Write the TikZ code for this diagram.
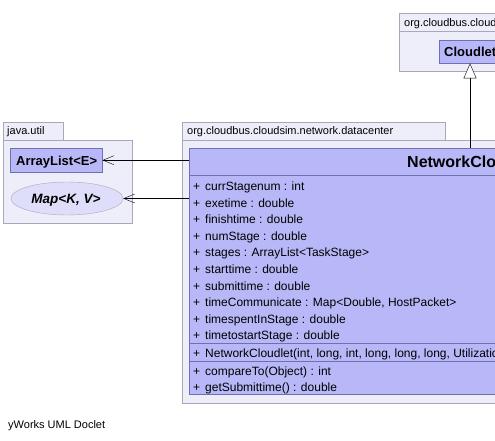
\documentclass[tikz,border=0pt]{standalone}
\usepackage{fontspec}
\setmainfont{Liberation Sans}
\usetikzlibrary{arrows.meta,shapes.geometric}
\definecolor{pkgfill}{RGB}{238,238,250}
\definecolor{pkgdraw}{RGB}{168,168,184}
\definecolor{clsfill}{RGB}{184,184,248}
\definecolor{clsdraw}{RGB}{112,112,176}
\definecolor{ifcfill}{RGB}{222,222,250}
\begin{document}
\begin{tikzpicture}[x=1pt, y=-1pt, font=\fontsize{11}{13}\selectfont,
  pkg body/.style={rectangle,draw=pkgdraw,fill=pkgfill,anchor=north west,inner sep=0pt},
  pkg tab/.style={rectangle,draw=pkgdraw,fill=pkgfill,anchor=south west,inner sep=0pt,minimum height=18pt},
  cls box/.style={rectangle,draw=clsdraw,fill=clsfill,anchor=north west,inner sep=0pt},
  label/.style={anchor=base west,inner sep=0pt},
  member/.style={anchor=base west,inner sep=0pt,font=\fontsize{12}{14}\selectfont},
  clsname/.style={anchor=base west,inner sep=0pt,font=\fontsize{13}{15}\selectfont\bfseries},
  dep/.style={-{Straight Barb[length=11pt,width=9pt]},thin},
  gen/.style={-{Triangle[open,length=15pt,width=13pt,fill=white]},thin}]
\useasboundingbox (0,0) rectangle (495,441);
\clip (0,0) rectangle (495,441);
\fill[white] (0,0) rectangle (495,441);

% packages
\node[pkg body, minimum width=129pt, minimum height=83pt] (utilpkg) at (3,140) {};
\node[pkg tab, minimum width=60pt] (utiltab) at (utilpkg.north west) {};
\node[label] at (7,135) {java.util};
\node[pkg body, minimum width=340pt, minimum height=263pt] (dcpkg) at (182,140) {};
\node[pkg tab, minimum width=263pt] (dctab) at (dcpkg.north west) {};
\node[label] at (187,135) {org.cloudbus.cloudsim.network.datacenter};
\node[pkg body, minimum width=140pt, minimum height=40pt] (clpkg) at (399,31) {};
\node[pkg tab, minimum width=140pt] (cltab) at (clpkg.north west) {};
\node[label] at (404,26.5) {org.cloudbus.cloudsim.cloudlet};

% classes in java.util and cloudlet
\node[cls box, minimum width=92pt, minimum height=24pt] (al) at (10,148) {};
\node[clsname] at (16,165) {ArrayList<E>};
\node[ellipse, draw=pkgdraw, fill=ifcfill, minimum width=112pt, minimum height=33pt, inner sep=0pt] (map) at (67,198.5) {};
\node[clsname, anchor=base, font=\fontsize{13.5}{15}\selectfont\bfseries\itshape] at (66,203) {Map<K, V>};
\node[cls box, minimum width=75pt, minimum height=23pt] (cl) at (439,40) {};
\node[clsname] at (444,57) {Cloudlet};

% NetworkCloudlet
\node[cls box, minimum width=330pt, minimum height=27pt] (ncl) at (189,148) {};
\node[clsname, font=\fontsize{16}{18}\selectfont\bfseries] at (407,167) {NetworkCloudlet};
\node[cls box, minimum width=330pt, minimum height=168pt] (attrs) at (189,175) {};
\node[cls box, minimum width=330pt, minimum height=18pt] (ctor) at (189,343) {};
\node[cls box, minimum width=330pt, minimum height=33pt] (ops) at (189,361) {};
\foreach \t [count=\i from 0] in {currStagenum : int, exetime : double, finishtime : double,
  numStage : double, stages : ArrayList<TaskStage>, starttime : double, submittime : double,
  {timeCommunicate : Map<Double, HostPacket>}, timespentInStage : double, timetostartStage : double}
{
  \node[member] at (193,190.5+16.6*\i) {+};
  \node[member] at (205,190.5+16.6*\i) {\t};
}
\node[member] at (193,357.5) {+};
\node[member] at (205,357.5) {NetworkCloudlet(int, long, int, long, long, long, UtilizationModel)};
\node[member] at (193,375) {+};
\node[member] at (205,375) {compareTo(Object) : int};
\node[member] at (193,391.5) {+};
\node[member] at (205,391.5) {getSubmittime() : double};

% connectors
\draw[dep] (ncl.west |- al.east) -- (al.east);
\draw[dep] (ncl.west |- map.east) -- (map.east);
\draw[gen] (470,148) coordinate (nclup) -- (nclup |- cl.south);

\node[label] (doclet) at (8,428) {yWorks UML Doclet};
\end{tikzpicture}
\end{document}
